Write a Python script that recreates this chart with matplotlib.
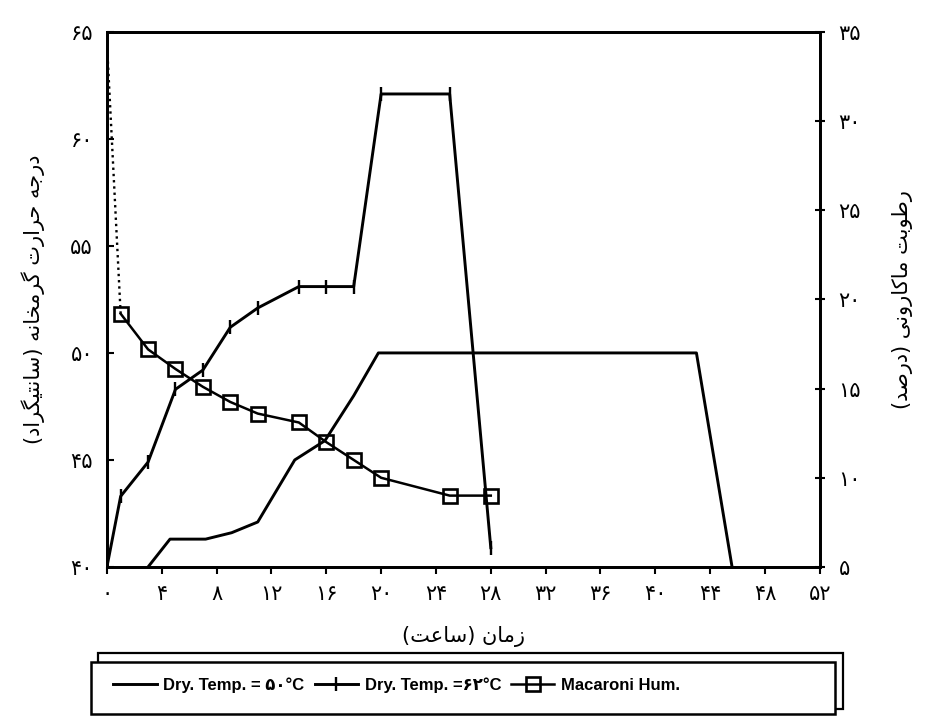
import matplotlib
matplotlib.use('Agg')
import matplotlib.pyplot as plt
import matplotlib.patches as mpatches

# data (hours, deg C, percent)
t_62 = [0, 1, 3, 5, 7, 9, 11, 14, 16, 18, 20, 25, 28]
temp_62 = [40, 43.3, 44.9, 48.3, 49.2, 51.2, 52.1, 53.1, 53.1, 53.1, 62.1, 62.1, 40.9]

t_50 = [3, 4.6, 7.2, 9.1, 11, 13.7, 15.9, 18, 19.8, 43, 45.6]
temp_50 = [40, 41.3, 41.3, 41.6, 42.1, 45.0, 45.9, 48.0, 50.0, 50.0, 40]

t_hum = [0, 1, 3, 5, 7, 9, 11, 14, 16, 18, 20, 25, 28]
hum = [34.4, 19.2, 17.2, 16.1, 15.1, 14.25, 13.6, 13.1, 12.0, 11.0, 10.0, 9.0, 9.0]

x_ticks = list(range(0, 53, 4))
left_ticks = [40, 45, 50, 55, 60, 65]
right_ticks = [5, 10, 15, 20, 25, 30, 35]

x_label = 'زمان (ساعت)'
left_label = 'درجه حرارت گرمخانه (سانتیگراد)'
right_label = 'رطوبت ماکارونی (درصد)'
legend_labels = ['Dry. Temp. = ۵۰°C', 'Dry. Temp. =۶۲°C', 'Macaroni Hum.']

# matplotlib has no arabic shaping, so pick presentation forms by hand
# (isolated, final, initial, medial)
FORMS = {
    'ا': ('\uFE8D', '\uFE8E', None, None),
    'ب': ('\uFE8F', '\uFE90', '\uFE91', '\uFE92'),
    'ت': ('\uFE95', '\uFE96', '\uFE97', '\uFE98'),
    'ج': ('\uFE9D', '\uFE9E', '\uFE9F', '\uFEA0'),
    'ح': ('\uFEA1', '\uFEA2', '\uFEA3', '\uFEA4'),
    'خ': ('\uFEA5', '\uFEA6', '\uFEA7', '\uFEA8'),
    'د': ('\uFEA9', '\uFEAA', None, None),
    'ر': ('\uFEAD', '\uFEAE', None, None),
    'ز': ('\uFEAF', '\uFEB0', None, None),
    'س': ('\uFEB1', '\uFEB2', '\uFEB3', '\uFEB4'),
    'ص': ('\uFEB9', '\uFEBA', '\uFEBB', '\uFEBC'),
    'ط': ('\uFEC1', '\uFEC2', '\uFEC3', '\uFEC4'),
    'ع': ('\uFEC9', '\uFECA', '\uFECB', '\uFECC'),
    'م': ('\uFEE1', '\uFEE2', '\uFEE3', '\uFEE4'),
    'ن': ('\uFEE5', '\uFEE6', '\uFEE7', '\uFEE8'),
    'ه': ('\uFEE9', '\uFEEA', '\uFEEB', '\uFEEC'),
    'و': ('\uFEED', '\uFEEE', None, None),
    'ک': ('\uFB8E', '\uFB8F', '\uFB90', '\uFB91'),
    'گ': ('\uFB92', '\uFB93', '\uFB94', '\uFB95'),
    'ی': ('\uFBFC', '\uFBFD', '\uFBFE', '\uFBFF'),
}


def shape(text):
    out = []
    for i, ch in enumerate(text):
        if ch not in FORMS:
            out.append(ch)
            continue
        prev = text[i - 1] if i > 0 else ''
        nxt = text[i + 1] if i < len(text) - 1 else ''
        join_prev = prev in FORMS and FORMS[prev][2] is not None
        join_next = FORMS[ch][2] is not None and nxt in FORMS
        iso, fin, ini, med = FORMS[ch]
        if join_prev and join_next:
            out.append(med)
        elif join_prev:
            out.append(fin)
        elif join_next:
            out.append(ini)
        else:
            out.append(iso)
    mirror = {'(': ')', ')': '('}
    return ''.join(mirror.get(c, c) for c in reversed(out))


def fa(n):
    return str(n).translate(str.maketrans('0123456789', '۰۱۲۳۴۵۶۷۸۹'))


plt.rcParams['font.family'] = ['DejaVu Sans']

fig = plt.figure(figsize=(9.38, 7.25), dpi=100)
ax = fig.add_axes([0.114, 0.218, 0.76, 0.738])
ax2 = ax.twinx()

lw = 2.1
l50, = ax.plot(t_50, temp_50, color='black', lw=lw)
l62, = ax.plot(t_62, temp_62, color='black', lw=lw, marker='|', ms=10, mew=1.7)
ax2.plot(t_hum[:2], hum[:2], color='black', lw=1.7, ls=':')
lh, = ax2.plot(t_hum[1:], hum[1:], color='black', lw=1.8, marker='s', ms=10,
               mfc='none', mew=1.9)

ax.set_xlim(0, 52)
ax.set_ylim(40, 65)
ax2.set_ylim(5, 35)

ax.set_xticks(x_ticks)
ax.set_xticklabels([fa(v) for v in x_ticks], fontsize=15)
ax.set_yticks(left_ticks)
ax.set_yticklabels([fa(v) for v in left_ticks], fontsize=15)
ax2.set_yticks(right_ticks)
ax2.set_yticklabels([fa(v) for v in right_ticks], fontsize=15)

ax.tick_params(axis='x', direction='out', length=5, width=1.5, pad=7)
ax.tick_params(axis='y', direction='in', length=5, width=1.5, pad=10)
ax2.tick_params(axis='y', direction='inout', length=7, width=1.5, pad=10)

for a in (ax, ax2):
    for s in a.spines.values():
        s.set_linewidth(2.0)

ax.set_xlabel(shape(x_label), fontsize=15, labelpad=16)
ax.set_ylabel(shape(left_label), fontsize=15, labelpad=18, rotation=90)
ax2.set_ylabel(shape(right_label), fontsize=15, labelpad=22, rotation=90)

# legend box with a raised 3d edge like the scan
back = mpatches.Rectangle((0.104, 0.022), 0.795, 0.078, transform=fig.transFigure,
                          fill=False, lw=1.6, ec='black')
front = mpatches.Rectangle((0.097, 0.015), 0.793, 0.072, transform=fig.transFigure,
                           facecolor='white', lw=1.8, ec='black')
fig.patches.extend([back, front])

leg = fig.legend([l50, l62, lh], legend_labels, loc='center left',
                 bbox_to_anchor=(0.105, 0.055), ncol=3, frameon=False,
                 handlelength=2.6, handletextpad=0.4, columnspacing=0.6,
                 prop={'family': ['Liberation Sans', 'DejaVu Sans'],
                       'weight': 'bold', 'size': 12})

fig.savefig('out.png', dpi=100)
